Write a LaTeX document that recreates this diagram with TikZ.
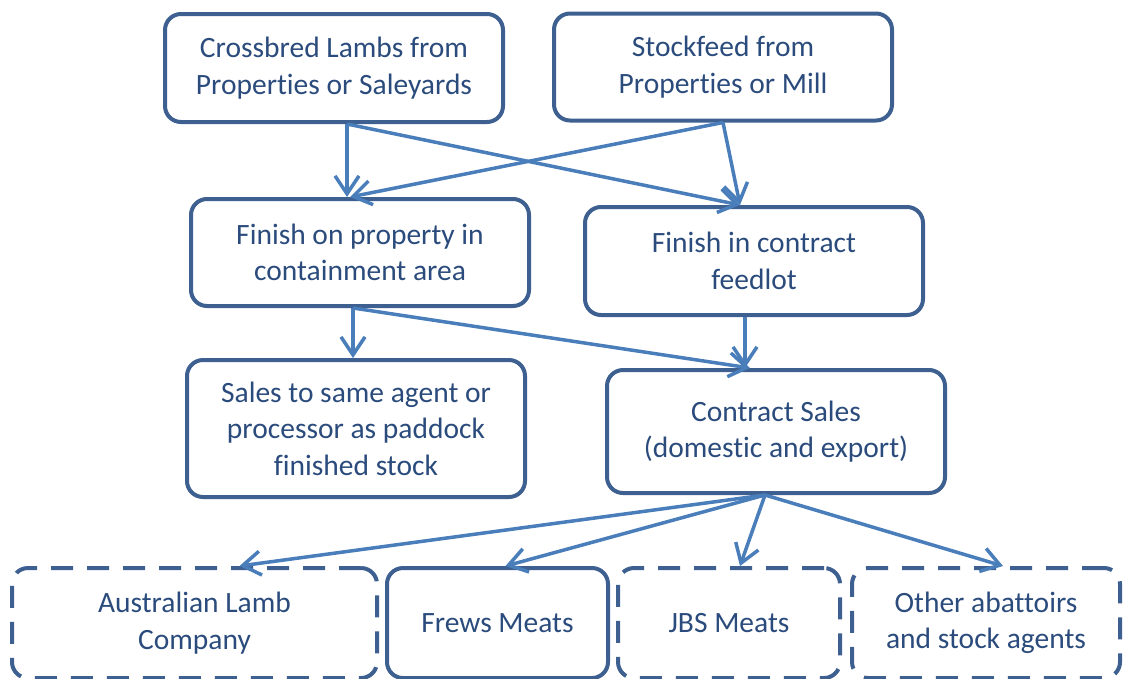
\documentclass[tikz,border=0pt]{standalone}
\usepackage{fontspec}
\setmainfont{Carlito}[Ligatures=NoCommon]
\usetikzlibrary{arrows.meta}
\definecolor{boxline}{HTML}{3D6090}
\definecolor{flowline}{HTML}{4A7EBB}
\definecolor{boxtext}{HTML}{2A4B7C}
\begin{document}
\begin{tikzpicture}[x=1pt,y=-1pt,
  box/.style={draw=boxline, line width=4pt, rounded corners=16pt, align=center,
    text=boxtext, font=\fontsize{29.5}{36.5}\selectfont, inner sep=0pt},
  dbox/.style={box, dash pattern=on 22pt off 14pt},
  flow/.style={draw=flowline, line width=3.5pt,
    -{Straight Barb[length=18pt,width=24pt]}}]
\useasboundingbox (0,0) rectangle (1123,678);

% sources
\node[box, minimum width=338pt, minimum height=108pt] (lambs) at (334,68)
  {Crossbred Lambs from\\Properties or Saleyards};
\node[box, minimum width=338pt, minimum height=107pt] (feed) at (723,67)
  {Stockfeed from\\Properties or Mill};

% finishing options
\node[box, minimum width=338pt, minimum height=107pt] (prop) at (360,252.5)
  {Finish on property in\\containment area};
\node[box, minimum width=338pt, minimum height=108pt] (lot) at (754,261)
  {Finish in contract\\feedlot};

% sales
\node[box, minimum width=338pt, minimum height=137pt] (same) at (356,428.5)
  {Sales to same agent or\\processor as paddock\\finished stock};
\node[box, minimum width=338pt, minimum height=123pt] (contract) at (776,431.5)
  {Contract Sales\\(domestic and export)};

% buyers
\node[dbox, minimum width=365pt, minimum height=110pt] (alc) at (194.5,623)
  {Australian Lamb\\Company};
\node[box, minimum width=221pt, minimum height=110pt] (frews) at (497.5,623)
  {Frews Meats};
\node[dbox, minimum width=222pt, minimum height=110pt] (jbs) at (729,623)
  {JBS Meats};
\node[dbox, minimum width=268pt, minimum height=110pt] (other) at (986,623)
  {Other abattoirs\\and stock agents};

% flows
\draw[flow] ([xshift=13pt]lambs.south) -- ([xshift=-13pt]prop.north);
\draw[flow] ([xshift=13pt]lambs.south) -- ([xshift=-14pt]lot.north);
\draw[flow] (feed.south) -- ([xshift=-10pt]prop.north);
\draw[flow] (feed.south) -- ([xshift=-14pt]lot.north);

\draw[flow] ([xshift=-7pt]prop.south) -- ([xshift=-3pt]same.north);
\draw[flow] ([xshift=-7pt]prop.south) -- ([xshift=-26pt]contract.north);
\draw[flow] ([xshift=-9pt]lot.south) -- ([xshift=-31pt]contract.north);

\draw[flow] ([xshift=-11pt]contract.south) -- ([xshift=45pt]alc.north);
\draw[flow] ([xshift=-11pt]contract.south) -- ([xshift=8pt]frews.north);
\draw[flow] ([xshift=-11pt]contract.south) -- ([xshift=11pt]jbs.north);
\draw[flow] ([xshift=-11pt]contract.south) -- ([xshift=17pt]other.north);
\end{tikzpicture}
\end{document}
